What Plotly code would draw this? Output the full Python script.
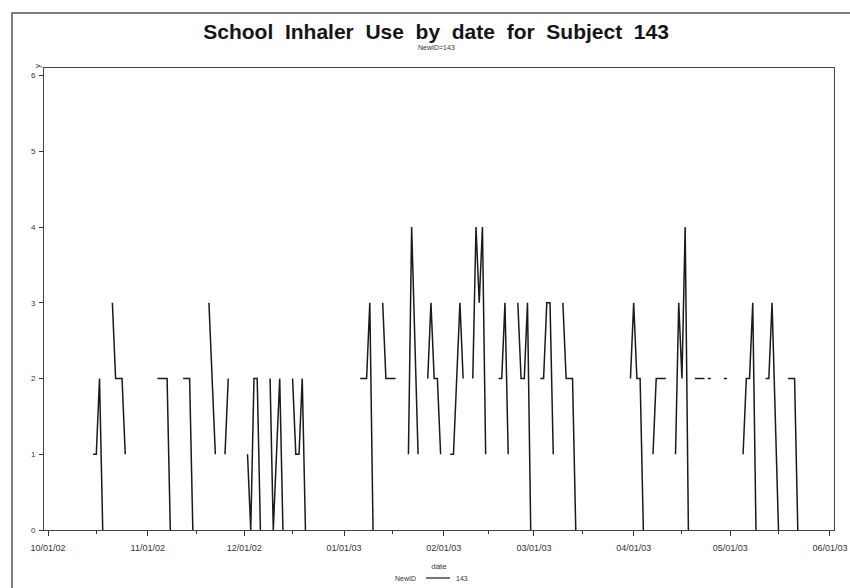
import plotly.graph_objects as go

# ---- data (None = missing observation -> line break) ----
dates = [
    "2002-10-15", "2002-10-16", "2002-10-17", "2002-10-18", "2002-10-19",
    "2002-10-21", "2002-10-22", "2002-10-23", "2002-10-24", "2002-10-25", "2002-10-26",
    "2002-11-04", "2002-11-05", "2002-11-06", "2002-11-07", "2002-11-08", "2002-11-09",
    "2002-11-12", "2002-11-13", "2002-11-14", "2002-11-15", "2002-11-16",
    "2002-11-20", "2002-11-21", "2002-11-22", "2002-11-23",
    "2002-11-25", "2002-11-26", "2002-11-27",
    "2002-12-02", "2002-12-03", "2002-12-04", "2002-12-05", "2002-12-06", "2002-12-07",
    "2002-12-09", "2002-12-10", "2002-12-11", "2002-12-12", "2002-12-13", "2002-12-14",
    "2002-12-16", "2002-12-17", "2002-12-18", "2002-12-19", "2002-12-20", "2002-12-21",
    "2003-01-06", "2003-01-07", "2003-01-08", "2003-01-09", "2003-01-10", "2003-01-11",
    "2003-01-13", "2003-01-14", "2003-01-15", "2003-01-16", "2003-01-17", "2003-01-18",
    "2003-01-21", "2003-01-22", "2003-01-24", "2003-01-25",
    "2003-01-27", "2003-01-28", "2003-01-29", "2003-01-30", "2003-01-31", "2003-02-01",
    "2003-02-03", "2003-02-04", "2003-02-05", "2003-02-06", "2003-02-07", "2003-02-08",
    "2003-02-10", "2003-02-11", "2003-02-12", "2003-02-13", "2003-02-14", "2003-02-15",
    "2003-02-18", "2003-02-19", "2003-02-20", "2003-02-21", "2003-02-22",
    "2003-02-24", "2003-02-25", "2003-02-26", "2003-02-27", "2003-02-28", "2003-03-01",
    "2003-03-03", "2003-03-04", "2003-03-05", "2003-03-06", "2003-03-07", "2003-03-08",
    "2003-03-10", "2003-03-11", "2003-03-12", "2003-03-13", "2003-03-14", "2003-03-15",
    "2003-03-31", "2003-04-01", "2003-04-02", "2003-04-03", "2003-04-04", "2003-04-05",
    "2003-04-07", "2003-04-08", "2003-04-09", "2003-04-10", "2003-04-11", "2003-04-12",
    "2003-04-14", "2003-04-15", "2003-04-16", "2003-04-17", "2003-04-18", "2003-04-19",
    "2003-04-20", "2003-04-21", "2003-04-22", "2003-04-23", "2003-04-23 12:00",
    "2003-04-24", "2003-04-25", "2003-04-26",
    "2003-04-29", "2003-04-30", "2003-05-01",
    "2003-05-05", "2003-05-06", "2003-05-07", "2003-05-08", "2003-05-09", "2003-05-10",
    "2003-05-12", "2003-05-13", "2003-05-14", "2003-05-16", "2003-05-17",
    "2003-05-19", "2003-05-20", "2003-05-21", "2003-05-22",
]
uses = [
    1, 1, 2, 0, None,
    3, 2, 2, 2, 1, None,
    2, 2, 2, 2, 0, None,
    2, 2, 2, 0, None,
    3, 2, 1, None,
    1, 2, None,
    1, 0, 2, 2, 0, None,
    2, 0, 1, 2, 0, None,
    2, 1, 1, 2, 0, None,
    2, 2, 2, 3, 0, None,
    3, 2, 2, 2, 2, None,
    1, 4, 1, None,
    2, 3, 2, 2, 1, None,
    1, 1, 2, 3, 2, None,
    2, 4, 3, 4, 1, None,
    2, 2, 3, 1, None,
    3, 2, 2, 3, 0, None,
    2, 2, 3, 3, 1, None,
    3, 2, 2, 2, 0, None,
    2, 3, 2, 2, 0, None,
    1, 2, 2, 2, 2, None,
    1, 3, 2, 4, 0, None,
    2, 2, 2, 2, None,
    2, 2, None,
    2, 2, None,
    1, 2, 2, 3, 0, None,
    2, 2, 3, 0, None,
    2, 2, 2, 0,
]

month_ticks = ["2002-10-01", "2002-11-01", "2002-12-01", "2003-01-01", "2003-02-01",
               "2003-03-01", "2003-04-01", "2003-05-01", "2003-06-01"]
month_labels = ["10/01/02", "11/01/02", "12/01/02", "01/01/03", "02/01/03",
                "03/01/03", "04/01/03", "05/01/03", "06/01/03"]
minor_ticks = ["2002-10-16", "2002-11-16", "2002-12-16", "2003-01-16", "2003-02-15",
               "2003-03-16", "2003-04-16", "2003-05-16"]
y_ticks = [0, 1, 2, 3, 4, 5, 6]

FONT = "Liberation Sans"
INK = "#1a1a1a"

fig = go.Figure()
fig.add_trace(go.Scatter(
    x=dates, y=uses, mode="lines", name="143",
    line=dict(color=INK, width=1.5), connectgaps=False, showlegend=False,
))

fig.update_layout(
    width=850, height=588,
    margin=dict(l=44, r=16, t=68, b=58, autoexpand=False),
    paper_bgcolor="white", plot_bgcolor="white",
    showlegend=False,
    font=dict(family=FONT, color=INK),
    title=dict(
        text="School  Inhaler  Use  by  date  for  Subject  143",
        x=0.513, xanchor="center", y=1 - 32 / 588, yanchor="middle",
        font=dict(family=FONT, size=21, color="#151515", weight="bold"),
    ),
)

fig.update_xaxes(
    type="date", automargin=False,
    range=["2002-09-29 18:00", "2003-06-02 06:00"],
    tickmode="array", tickvals=month_ticks, ticktext=month_labels,
    ticks="outside", ticklen=5, tickwidth=1, tickcolor="#333",
    ticklabelstandoff=4,
    minor=dict(tickmode="array", tickvals=minor_ticks, ticks="outside",
               ticklen=3, tickcolor="#333", showgrid=False),
    showline=True, linecolor="#444", linewidth=1, mirror=True,
    showgrid=False, zeroline=False,
    tickfont=dict(family=FONT, size=9, color="#333"),
    title=dict(text="date", font=dict(family=FONT, size=8, color="#333"), standoff=11),
)
fig.update_yaxes(
    range=[0, 6.1], automargin=False,
    tickmode="array", tickvals=y_ticks,
    ticks="outside", ticklen=4, tickwidth=1, tickcolor="#333",
    ticklabelstandoff=2,
    showline=True, linecolor="#444", linewidth=1, mirror=True,
    showgrid=False, zeroline=False,
    tickfont=dict(family=FONT, size=8, color="#333"),
)

# small subtitle, y-axis label, legend and outer frame
fig.add_annotation(text="NewID=143", xref="paper", yref="paper",
                   x=0.497, y=(530 - 48) / 462, yanchor="middle", showarrow=False,
                   font=dict(family=FONT, size=7, color="#333"))
fig.add_annotation(text="y", xref="paper", yref="paper",
                   x=(37 - 44) / 790, y=(530 - 66) / 462,
                   xanchor="center", yanchor="middle",
                   showarrow=False, textangle=-90,
                   font=dict(family=FONT, size=8, color="#333"))
LEG_Y = (530 - 578) / 462
fig.add_annotation(text="NewID", xref="paper", yref="paper",
                   x=(405 - 44) / 790, y=LEG_Y, yanchor="middle", showarrow=False,
                   font=dict(family=FONT, size=7, color="#333"))
fig.add_shape(type="line", xref="paper", yref="paper",
              x0=(426 - 44) / 790, x1=(450 - 44) / 790,
              y0=LEG_Y, y1=LEG_Y,
              line=dict(color=INK, width=1.2))
fig.add_annotation(text="143", xref="paper", yref="paper",
                   x=(462 - 44) / 790, y=LEG_Y, yanchor="middle", showarrow=False,
                   font=dict(family=FONT, size=7, color="#333"))
fig.add_shape(type="rect", xref="paper", yref="paper",
              x0=(12 - 44) / 790, x1=(870 - 44) / 790,
              y0=(530 - 620) / 462, y1=(530 - 13) / 462,
              line=dict(color="#555", width=1.5), fillcolor="rgba(0,0,0,0)")

fig.write_html("out.html")
